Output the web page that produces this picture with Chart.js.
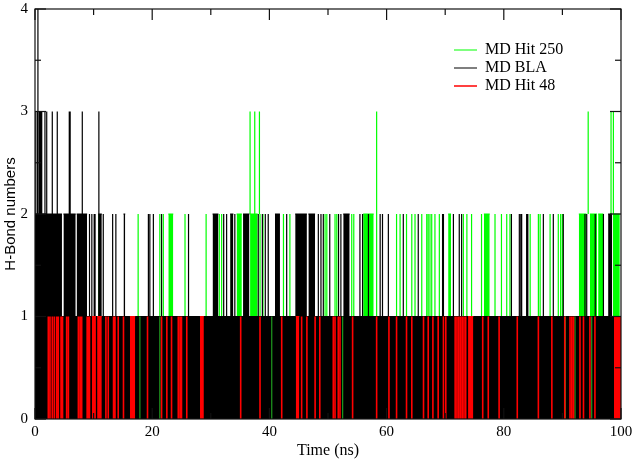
<!DOCTYPE html>
<html><head><meta charset="utf-8">
<script src="https://cdn.jsdelivr.net/npm/chart.js@4.4.1/dist/chart.umd.min.js"></script>
<style>html,body{margin:0;padding:0;background:#fff}#wrap{width:636px;height:462px}</style>
</head><body><div id="wrap"><canvas id="c" width="636" height="462"></canvas></div>
<script>
// ---- axis ticks / names ----
const xTicks = [0, 20, 40, 60, 80, 100];
const yTicks = [0, 1, 2, 3, 4];
const seriesNames = ['MD Hit 250', 'MD BLA', 'MD Hit 48'];

// ---- MD Hit 250 (green): times (ns) of H-bond events ----
const hit250Lines2 = [10.9, 17.6, 21.3, 21.9, 25.6, 29.2, 31.0, 31.45, 31.85, 33.5, 38.4, 38.9, 42.4, 43.5, 49.5, 49.8, 51.2, 51.5, 54.05, 54.4, 58.3, 61.7, 62.3, 63.4, 64.3, 64.85, 66.0, 66.85, 67.1, 67.4, 67.7, 68.25, 69.0, 73.1, 73.7, 74.5, 76.2, 78.5, 79.6, 80.5, 81.05, 84.5, 85.9, 86.2, 87.9, 89.3, 89.7, 90.0];
const hit250Runs2 = [[22.75, 23.6], [34.4, 35.3], [36.7, 38.0], [56.0, 57.8], [70.5, 71.0], [76.6, 77.6], [92.8, 94.1], [94.7, 95.9], [96.1, 97.0], [98.6, 99.8]];
const hit250Lines3 = [36.7, 37.5, 38.3, 58.3, 94.4, 98.3, 98.7];
const hit250Lines0 = [17.9, 21.3, 40.4, 52.5, 90.5, 92.15, 95.0];

// ---- MD BLA (black) ----
const blaRuns1 = [[0, 100]];
const blaRuns2 = [[0, 4.6], [4.85, 6.95], [7.1, 8.9], [10.8, 11.4], [15.1, 15.4], [30.3, 31.3], [33.3, 33.85], [35.5, 36.6], [40.95, 41.8], [44.4, 46.4], [46.65, 47.8], [52.6, 53.7], [97.8, 98.5]];
const blaLines2 = [9.3, 9.7, 10.1, 10.25, 11.65, 13.25, 13.8, 19.35, 19.6, 20.2, 21.6, 26.2, 32.2, 32.7, 34.1, 38.1, 38.8, 39.3, 39.8, 42.95, 47.2, 48.35, 48.8, 49.2, 50.3, 51.8, 52.2, 55.45, 55.9, 56.9, 58.9, 59.3, 60.3, 62.85, 65.4, 69.55, 69.7, 71.4, 72.4, 72.8, 81.3, 82.65, 82.9, 83.05, 83.9, 84.1, 86.75, 88.45, 90.15, 93.85, 94.15, 95.6, 97.0];
const blaLines3 = [0.15, 0.45, 0.75, 0.95, 1.15, 1.7, 2.0, 2.95, 3.8, 5.85, 6.0, 8.07, 10.9];
const blaLines4 = [0.5];

// ---- MD Hit 48 (red) ----
const hit48Lines1 = [2.27, 2.56, 2.95, 3.3, 3.7, 3.98, 4.44, 4.7, 5.4, 5.7, 7.4, 7.7, 7.97, 8.9, 9.1, 9.3, 12.1, 12.5, 13.4, 13.65, 14.2, 15.1, 19.2, 21.6, 22.5, 23.3, 24.45, 24.75, 25.0, 25.9, 28.6, 35.1, 38.4, 42.1, 45.5, 46.4, 47.8, 48.6, 50.9, 51.2, 51.75, 52.05, 54.2, 58.3, 60.4, 61.7, 63.4, 64.3, 66.3, 67.1, 67.9, 68.8, 69.7, 70.1, 71.7, 72.0, 72.3, 72.6, 72.9, 73.2, 73.5, 76.4, 77.35, 79.2, 82.3, 85.9, 88.2, 90.4, 91.3, 91.6, 91.9, 93.0, 93.6, 94.7, 95.55];
const hit48Runs1 = [[9.7, 10.4], [10.6, 11.4], [16.2, 17.1], [28.15, 28.8], [44.5, 45.1], [73.9, 74.8], [98.8, 100]];

// ---- helpers: build line-element points from the event lists ----
function linePts(times, lo, hi) {
  const p = [];
  times.forEach(t => { p.push({x: t, y: lo}, {x: t, y: hi}, {x: t, y: null}); });
  return p;
}
function runPts(runs, hi) {
  const p = [];
  runs.forEach(([a, b]) => { p.push({x: a, y: hi}, {x: b, y: hi}, {x: b, y: null}); });
  return p;
}
const GREEN = '#00ff00', BLACK = '#000000', RED = '#ff0000';
function lineDs(label, times, lo, hi, color, order, w) {
  return {label, data: linePts(times, lo, hi), borderColor: color, backgroundColor: color,
    borderWidth: w || 1.2, pointRadius: 0, fill: false, spanGaps: false, order};
}
function runDs(runs, lo, hi, color, order) {
  return {label: '', data: runPts(runs, hi), borderColor: color, backgroundColor: color,
    borderWidth: 1, pointRadius: 0, fill: {value: lo}, spanGaps: false, order};
}

const datasets = [
  lineDs('MD Hit 250', hit250Lines2, 1, 2, GREEN, 30),
  runDs(hit250Runs2, 1, 2, GREEN, 31),
  lineDs('', hit250Lines3, 2, 3, GREEN, 30),
  lineDs('MD BLA', blaLines2, 1, 2, BLACK, 20),
  runDs(blaRuns1, 0, 1, BLACK, 22),
  runDs(blaRuns2, 1, 2, BLACK, 21),
  lineDs('', blaLines3, 1, 3, BLACK, 20),
  lineDs('', blaLines4, 2, 4, BLACK, 20),
  lineDs('', hit250Lines0, 0, 1, '#1f9a1f', 15),
  lineDs('MD Hit 48', hit48Lines1, 0, 1, RED, 10, 1.6),
  runDs(hit48Runs1, 0, 1, RED, 11)
];

// frame + inward ticks drawn from the scales
const frameTicks = {
  id: 'frameTicks',
  afterDatasetsDraw(chart) {
    const {ctx, chartArea: a, scales: {x, y}} = chart;
    ctx.save();
    ctx.strokeStyle = '#111';
    ctx.lineWidth = 1.2;
    ctx.strokeRect(a.left, a.top, a.right - a.left, a.bottom - a.top);
    const seg = (x1, y1, x2, y2) => { ctx.beginPath(); ctx.moveTo(x1, y1); ctx.lineTo(x2, y2); ctx.stroke(); };
    xTicks.forEach((v, i) => {
      const px = x.getPixelForValue(v);
      seg(px, a.top, px, a.top + 11); seg(px, a.bottom, px, a.bottom - 11);
      if (i < xTicks.length - 1) {
        const mx = x.getPixelForValue((v + xTicks[i + 1]) / 2);
        seg(mx, a.top, mx, a.top + 6); seg(mx, a.bottom, mx, a.bottom - 6);
      }
    });
    yTicks.forEach((v, i) => {
      const py = y.getPixelForValue(v);
      seg(a.left, py, a.left + 11, py); seg(a.right, py, a.right - 11, py);
      if (i < yTicks.length - 1) {
        const my = y.getPixelForValue((v + yTicks[i + 1]) / 2);
        seg(a.left, my, a.left + 6, my); seg(a.right, my, a.right - 6, my);
      }
    });
    ctx.restore();
  }
};
// place legend inside plot at top-right
const placeLegend = {
  id: 'placeLegend',
  afterLayout(chart) {
    const lg = chart.legend;
    if (!lg) return;
    const w = lg.width, h = lg.height;
    lg.left = 452; lg.top = 40; lg.right = lg.left + w; lg.bottom = lg.top + h;
  }
};

new Chart(document.getElementById('c'), {
  type: 'line',
  data: {datasets},
  plugins: [frameTicks, placeLegend],
  options: {
    responsive: false, animation: false, events: [],
    layout: {padding: {top: 9, right: 15, left: 0, bottom: 0}},
    plugins: {
      tooltip: {enabled: false},
      legend: {
        position: 'chartArea', align: 'start',
        labels: {
          usePointStyle: true, pointStyle: 'line', pointStyleWidth: 23,
          color: '#000', padding: 2,
          font: {family: 'Liberation Serif', size: 16},
          filter: item => !!item.text,
          sort: (a, b) => seriesNames.indexOf(a.text) - seriesNames.indexOf(b.text)
        }
      }
    },
    scales: {
      x: {
        type: 'linear', min: 0, max: 100,
        afterBuildTicks: s => { s.ticks = xTicks.map(v => ({value: v})); },
        grid: {display: false, drawTicks: false}, border: {display: false},
        ticks: {color: '#000', font: {family: 'Liberation Serif', size: 15}, padding: 4, maxRotation: 0, autoSkip: false},
        title: {display: true, text: 'Time (ns)', color: '#000', font: {family: 'Liberation Serif', size: 16}, padding: {top: 0, bottom: 2}},
        afterFit: s => { s.height = 43; s.paddingLeft = 0; s.paddingRight = 0; }
      },
      y: {
        type: 'linear', min: 0, max: 4,
        afterBuildTicks: s => { s.ticks = yTicks.map(v => ({value: v})); },
        grid: {display: false, drawTicks: false}, border: {display: false},
        ticks: {color: '#000', font: {family: 'Liberation Serif', size: 15}, padding: 7},
        title: {display: true, text: 'H-Bond numbers', color: '#000', font: {family: 'Liberation Sans', size: 15}, padding: {top: 2, bottom: 0}},
        afterFit: s => { s.width = 35; s.paddingTop = 0; s.paddingBottom = 0; }
      }
    }
  }
});
</script>
</body></html>
